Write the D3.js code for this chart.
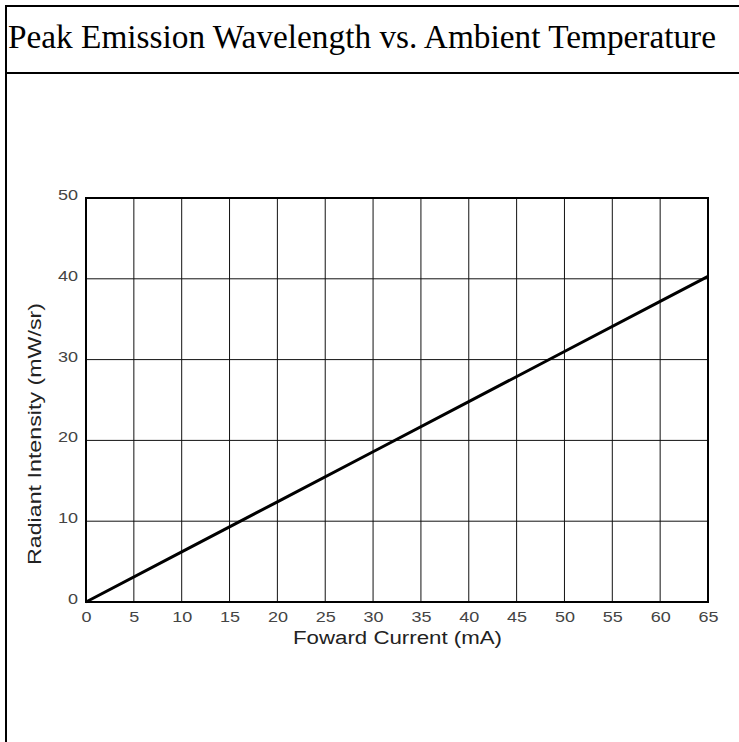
<!DOCTYPE html>
<html>
<head>
<meta charset="utf-8">
<script src="https://cdn.jsdelivr.net/npm/d3@7"></script>
<style>
  html, body { margin: 0; padding: 0; background: #fff; }
  svg { display: block; }
</style>
</head>
<body>
<svg id="chart"></svg>
<script>
// chart data
const title = 'Peak Emission Wavelength vs. Ambient Temperature';
const xLabel = 'Foward Current (mA)';
const yLabel = 'Radiant Intensity (mW/sr)';
const xTicks = [0, 5, 10, 15, 20, 25, 30, 35, 40, 45, 50, 55, 60, 65];
const yTicks = [0, 10, 20, 30, 40, 50];
const current = [0, 10, 20, 30, 40, 50, 60, 65];
const intensity = [0, 6.2, 12.4, 18.6, 24.8, 31.0, 37.2, 40.3];

const data = current.map((c, i) => ({ x: c, y: intensity[i] }));

const width = 739;
const height = 742;
const plot = { left: 86, right: 708, top: 198, bottom: 602 };
const sans = '"Liberation Sans", Arial, sans-serif';

const svg = d3.select('#chart')
  .attr('width', width)
  .attr('height', height);

// outer table frame and title cell
svg.append('line')
  .attr('x1', 6).attr('x2', 6).attr('y1', 5).attr('y2', height)
  .attr('stroke', '#000').attr('stroke-width', 2);
svg.append('line')
  .attr('x1', 5).attr('x2', width).attr('y1', 6).attr('y2', 6)
  .attr('stroke', '#000').attr('stroke-width', 2);
svg.append('line')
  .attr('x1', 5).attr('x2', width).attr('y1', 73).attr('y2', 73)
  .attr('stroke', '#000').attr('stroke-width', 2);

svg.append('text')
  .attr('x', 8)
  .attr('y', 48)
  .attr('font-family', '"Liberation Serif", "Times New Roman", serif')
  .attr('font-size', 33)
  .attr('textLength', 708)
  .attr('lengthAdjust', 'spacingAndGlyphs')
  .attr('fill', '#000')
  .text(title);

// scales
const x = d3.scaleLinear().domain([0, 65]).range([plot.left, plot.right]);
const y = d3.scaleLinear().domain([0, 50]).range([plot.bottom, plot.top]);

// grid
svg.append('g')
  .selectAll('line')
  .data(xTicks.slice(1, -1))
  .join('line')
  .attr('x1', d => x(d)).attr('x2', d => x(d))
  .attr('y1', plot.top).attr('y2', plot.bottom)
  .attr('stroke', '#111').attr('stroke-width', 1);

svg.append('g')
  .selectAll('line')
  .data(yTicks.slice(1, -1))
  .join('line')
  .attr('x1', plot.left).attr('x2', plot.right)
  .attr('y1', d => y(d)).attr('y2', d => y(d))
  .attr('stroke', '#111').attr('stroke-width', 1);

// plot frame
svg.append('rect')
  .attr('x', plot.left).attr('y', plot.top)
  .attr('width', plot.right - plot.left)
  .attr('height', plot.bottom - plot.top)
  .attr('fill', 'none')
  .attr('stroke', '#000').attr('stroke-width', 2);

// axes (labels only; the source picture is stretched sideways)
const xAxis = svg.append('g')
  .attr('transform', `translate(0, ${plot.bottom})`)
  .call(d3.axisBottom(x).tickValues(xTicks).tickSize(0).tickPadding(9));
const yAxis = svg.append('g')
  .attr('transform', `translate(${plot.left}, 0)`)
  .call(d3.axisLeft(y).tickValues(yTicks).tickSize(0).tickPadding(8));

[xAxis, yAxis].forEach(g => {
  g.select('.domain').remove();
  g.selectAll('text')
    .attr('font-family', sans)
    .attr('font-size', 15)
    .attr('fill', '#444')
    .attr('transform', 'scale(1.2,1)');
});
xAxis.selectAll('text').attr('dy', '0.75em');
yAxis.selectAll('text').attr('dy', '0.1em').attr('x', -8 / 1.2);

// axis titles
svg.append('text')
  .attr('x', (plot.left + plot.right) / 2 - 104)
  .attr('y', 644)
  .attr('font-family', sans)
  .attr('font-size', 18)
  .attr('textLength', 209)
  .attr('lengthAdjust', 'spacingAndGlyphs')
  .attr('fill', '#222')
  .text(xLabel);

svg.append('text')
  .attr('transform', 'translate(41, 565) rotate(-90)')
  .attr('font-family', sans)
  .attr('font-size', 18)
  .attr('textLength', 262)
  .attr('lengthAdjust', 'spacingAndGlyphs')
  .attr('fill', '#222')
  .text(yLabel);

// curve
const line = d3.line().x(d => x(d.x)).y(d => y(d.y));
svg.append('path')
  .datum(data)
  .attr('d', line)
  .attr('fill', 'none')
  .attr('stroke', '#000')
  .attr('stroke-width', 3);
</script>
</body>
</html>
